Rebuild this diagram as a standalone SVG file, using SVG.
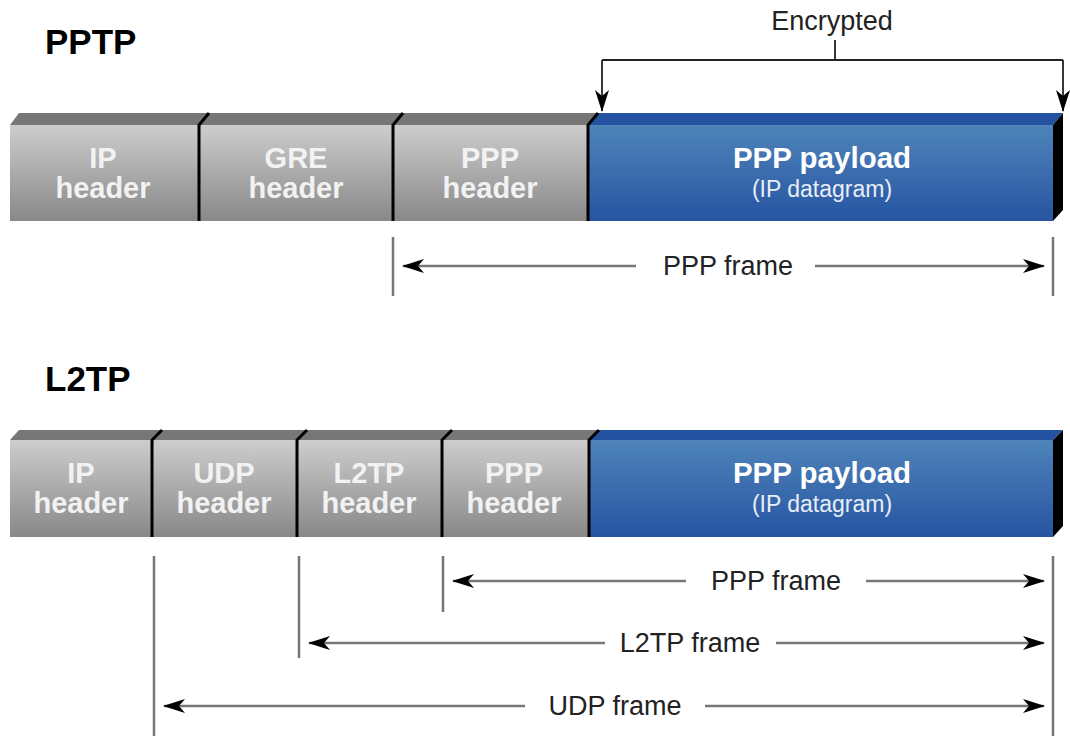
<svg xmlns="http://www.w3.org/2000/svg" width="1070" height="736" viewBox="0 0 1070 736">
<defs>
<linearGradient id="gGray" x1="0" y1="0" x2="0" y2="1">
<stop offset="0" stop-color="#cdcdcd"/><stop offset="1" stop-color="#888888"/>
</linearGradient>
<linearGradient id="gBlue" x1="0" y1="0" x2="0" y2="1">
<stop offset="0" stop-color="#4f84ba"/><stop offset="1" stop-color="#2654a2"/>
</linearGradient>
<marker id="ah" viewBox="0 0 22 14" refX="21" refY="7" markerWidth="22" markerHeight="14" markerUnits="userSpaceOnUse" orient="auto">
<path d="M0,0 L22,7 L0,14 L6,7 Z" fill="#000"/>
</marker>
</defs>
<style>
.title{font-family:"Liberation Sans",Arial,sans-serif;font-weight:bold;font-size:35px;fill:#000}
.hd{font-family:"Liberation Sans",Arial,sans-serif;font-weight:bold;font-size:29px;fill:#f2f2f2;text-anchor:middle}
.pl{font-family:"Liberation Sans",Arial,sans-serif;font-weight:bold;font-size:29.5px;fill:#fff;text-anchor:middle}
.sub{font-family:"Liberation Sans",Arial,sans-serif;font-size:23px;fill:#e8eef6;text-anchor:middle}
.lbl{font-family:"Liberation Sans",Arial,sans-serif;font-size:27px;fill:#222;text-anchor:middle}
.front{fill:url(#gGray)}
.topg{fill:#777}
.blue{fill:url(#gBlue)}
.topb{fill:#2352a0}
.sep{stroke:#000;stroke-width:3;fill:none}
.tick{stroke:#777;stroke-width:2.5;fill:none}
.arr{stroke:#777;stroke-width:2.5;fill:none}
.enc{stroke:#222;stroke-width:1.8;fill:none}
</style>

<text class="title" x="45" y="54">PPTP</text>
<text class="title" x="45" y="391">L2TP</text>

<g id="pptp-bar">
<polygon class="topg" points="10,125 19,113 598,113 588,125"/>
<polygon class="topb" points="588,125 598,113 1063,113 1053,125"/>
<polygon points="1053,125 1063,113 1063,210 1053,221" fill="#000"/>
<rect class="front" x="10" y="125" width="578" height="96"/>
<rect class="blue" x="588" y="125" width="465" height="96"/>
</g>
<g id="pptp-ip"><text class="hd" x="103" y="168">IP</text><text class="hd" x="103" y="198">header</text></g>
<g id="pptp-gre"><path class="sep" d="M199,221 V125 L209,113"/><text class="hd" x="296" y="168">GRE</text><text class="hd" x="296" y="198">header</text></g>
<g id="pptp-ppp"><path class="sep" d="M393,221 V125 L403,113"/><text class="hd" x="490" y="168">PPP</text><text class="hd" x="490" y="198">header</text></g>
<g id="pptp-payload"><path class="sep" d="M588,221 V125 L598,113"/><text class="pl" x="822" y="168">PPP payload</text><text class="sub" x="822" y="197">(IP datagram)</text></g>

<g id="l2tp-bar">
<polygon class="topg" points="10,440 19,430 599,430 589,440"/>
<polygon class="topb" points="589,440 599,430 1063,430 1053,440"/>
<polygon points="1053,440 1063,430 1063,526 1053,537" fill="#000"/>
<rect class="front" x="10" y="440" width="579" height="97"/>
<rect class="blue" x="589" y="440" width="464" height="97"/>
</g>
<g id="l2tp-ip"><text class="hd" x="81" y="483">IP</text><text class="hd" x="81" y="513">header</text></g>
<g id="l2tp-udp"><path class="sep" d="M152,537 V440 L162,430"/><text class="hd" x="224" y="483">UDP</text><text class="hd" x="224" y="513">header</text></g>
<g id="l2tp-l2tp"><path class="sep" d="M297,537 V440 L307,430"/><text class="hd" x="369" y="483">L2TP</text><text class="hd" x="369" y="513">header</text></g>
<g id="l2tp-ppp"><path class="sep" d="M442,537 V440 L452,430"/><text class="hd" x="514" y="483">PPP</text><text class="hd" x="514" y="513">header</text></g>
<g id="l2tp-payload"><path class="sep" d="M589,537 V440 L599,430"/><text class="pl" x="822" y="483">PPP payload</text><text class="sub" x="822" y="512">(IP datagram)</text></g>

<g id="connectors">
<text class="lbl" x="832" y="30">Encrypted</text>
<path class="enc" d="M835,40 V60"/>
<path class="enc" d="M602,60 H1063"/>
<path class="enc" d="M602,60 V111" marker-end="url(#ah)"/>
<path class="enc" d="M1063,60 V111" marker-end="url(#ah)"/>

<path class="tick" d="M393,237 V296"/>
<path class="tick" d="M1053,237 V296"/>
<path class="arr" d="M636,266 H403" marker-end="url(#ah)"/>
<path class="arr" d="M815,266 H1044" marker-end="url(#ah)"/>
<text class="lbl" x="728" y="275">PPP frame</text>

<path class="tick" d="M154,556 V736"/>
<path class="tick" d="M299,556 V658"/>
<path class="tick" d="M443,556 V612"/>
<path class="tick" d="M1053,556 V736"/>

<path class="arr" d="M686,581 H453" marker-end="url(#ah)"/>
<path class="arr" d="M866,581 H1044" marker-end="url(#ah)"/>
<text class="lbl" x="776" y="590">PPP frame</text>

<path class="arr" d="M605,643 H309" marker-end="url(#ah)"/>
<path class="arr" d="M776,643 H1044" marker-end="url(#ah)"/>
<text class="lbl" x="690" y="652">L2TP frame</text>

<path class="arr" d="M525,706 H164" marker-end="url(#ah)"/>
<path class="arr" d="M705,706 H1044" marker-end="url(#ah)"/>
<text class="lbl" x="615" y="715">UDP frame</text>
</g>
</svg>
